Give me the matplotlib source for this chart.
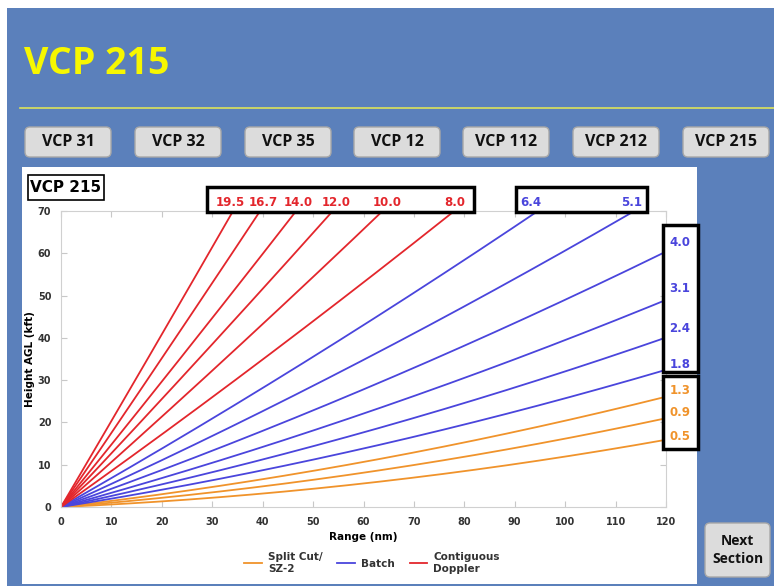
import numpy as np
import matplotlib
matplotlib.use("Agg")
import matplotlib.pyplot as plt
from matplotlib.patches import FancyBboxPatch, Rectangle

# elevation angles (deg) of VCP 215, grouped by scan type
split_cut = [0.5, 0.9, 1.3]
batch = [1.8, 2.4, 3.1, 4.0, 5.1, 6.4]
contiguous = [8.0, 10.0, 12.0, 14.0, 16.7, 19.5]

tabs = ["VCP 31", "VCP 32", "VCP 35", "VCP 12", "VCP 112", "VCP 212", "VCP 215"]
tab_x = [25, 135, 245, 354, 463, 573, 683]

ORANGE = "#f0932b"
BLUE = "#4a45dc"
RED = "#e3262c"
BG = "#5b80bb"

W, H = 774, 586


def beam_height(rng, elev):
    # 4/3 earth radius beam height, range in nm -> height in kft
    ke_r = 4587.0
    h_nm = rng * np.sin(np.radians(elev)) + rng ** 2 / (2 * ke_r)
    return h_nm * 6.076


fig = plt.figure(figsize=(W / 100, H / 100), dpi=100)
fig.patch.set_facecolor(BG)

# page decorations in pixel coords
bg = fig.add_axes([0, 0, 1, 1], zorder=0)
bg.set_xlim(0, W)
bg.set_ylim(H, 0)
bg.axis("off")
bg.add_patch(Rectangle((0, 0), W, 8, color="white", lw=0))
bg.add_patch(Rectangle((0, 0), 7, H, color="white", lw=0))
bg.text(24, 64, "VCP 215", color="#f7f700", fontsize=27, fontweight="bold",
        family="Open Sans", va="center", ha="left")
bg.plot([20, W], [108, 108], color="#dde35a", lw=1.2)

for lbl, x in zip(tabs, tab_x):
    bg.add_patch(FancyBboxPatch((x, 127), 86, 30, boxstyle="round,pad=0,rounding_size=5",
                                fc="#dcdcdc", ec="#a8a8a8", lw=1))
    bg.text(x + 43, 142.5, lbl, fontsize=11.5, fontweight="bold", family="Open Sans",
            ha="center", va="center", color="#111111")

bg.add_patch(Rectangle((22, 167), 675, 417, color="white", lw=0))
bg.add_patch(FancyBboxPatch((705, 523), 65, 54, boxstyle="round,pad=0,rounding_size=5",
                            fc="#dcdcdc", ec="#a8a8a8", lw=1))
bg.text(737.5, 550, "Next\nSection", fontsize=10, fontweight="bold", family="Open Sans",
        ha="center", va="center", color="#111111", linespacing=1.3)

# chart
ax = fig.add_axes([61 / W, 1 - 507 / H, 605 / W, 296 / H], zorder=1)
ax.set_facecolor("white")
rng = np.linspace(0, 120, 400)
for group, col, name in [(split_cut, ORANGE, "Split Cut/\nSZ-2"),
                         (batch, BLUE, "Batch"),
                         (contiguous, RED, "Contiguous\nDoppler")]:
    for i, e in enumerate(group):
        ax.plot(rng, beam_height(rng, e), color=col, lw=1.3,
                label=name if i == 0 else None)

ax.set_xlim(0, 120)
ax.set_ylim(0, 70)
ax.set_xticks(range(0, 121, 10))
ax.set_yticks(range(0, 71, 10))
ax.tick_params(direction="in", length=4, color="#c8c8c8", labelsize=7, labelcolor="#333333",
               top=True, right=True, pad=7)
for t in ax.get_xticklabels() + ax.get_yticklabels():
    t.set_fontweight("bold")
for s in ax.spines.values():
    s.set_color("#d0d0d0")
ax.set_xlabel("Range (nm)", fontsize=7.5, fontweight="bold", labelpad=4)
ax.set_ylabel("Height AGL (kft)", fontsize=7.5, fontweight="bold", labelpad=2)

fig.legend(loc="center", bbox_to_anchor=(372 / W, 1 - 563 / H), ncol=3, frameon=False,
           prop={"size": 7.5, "weight": "bold"}, handlelength=1.7, handletextpad=0.6,
           columnspacing=1.4, labelcolor="#333333")

# label boxes overlay
ov = fig.add_axes([0, 0, 1, 1], zorder=2)
ov.set_xlim(0, W)
ov.set_ylim(H, 0)
ov.axis("off")
ov.patch.set_alpha(0)

ov.add_patch(Rectangle((28, 175), 76, 25, fc="white", ec="black", lw=1.2))
ov.text(66, 187.5, "VCP 215", fontsize=11, fontweight="bold", ha="center", va="center")

ov.add_patch(Rectangle((207, 187), 267, 25, fc="white", ec="black", lw=2.5))
ov.add_patch(Rectangle((516, 187), 131, 25, fc="white", ec="black", lw=2.5))
ov.add_patch(Rectangle((663, 225), 35, 147, fc="white", ec="black", lw=2.5))
ov.add_patch(Rectangle((663, 376), 35, 73, fc="white", ec="black", lw=2.5))

top_red_x = [230, 263, 298, 336, 387, 455]
for e, x in zip(contiguous[::-1], top_red_x):
    ov.text(x, 203, f"{e:.1f}", color=RED, fontsize=8.5, fontweight="bold", ha="center", va="center")
for e, x in zip([6.4, 5.1], [531, 632]):
    ov.text(x, 203, f"{e:.1f}", color=BLUE, fontsize=8.5, fontweight="bold", ha="center", va="center")
for e, y in zip([4.0, 3.1, 2.4, 1.8], [242, 289, 328, 364]):
    ov.text(680, y, f"{e:.1f}", color=BLUE, fontsize=8.5, fontweight="bold", ha="center", va="center")
for e, y in zip([1.3, 0.9, 0.5], [391, 412, 437]):
    ov.text(680, y, f"{e:.1f}", color=ORANGE, fontsize=8.5, fontweight="bold", ha="center", va="center")

fig.savefig("out.png", dpi=100, facecolor=BG)
